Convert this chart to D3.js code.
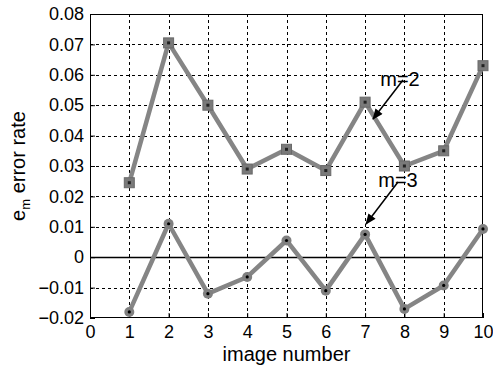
<!DOCTYPE html>
<html>
<head>
<meta charset="utf-8">
<script src="https://cdn.jsdelivr.net/npm/d3@7"></script>
<style>
  body { margin: 0; background: #fff; }
  svg { font-family: Arial, "Liberation Sans", sans-serif; }
</style>
</head>
<body>
<svg width="493" height="368"></svg>
<script>
// chart data
const images = [1, 2, 3, 4, 5, 6, 7, 8, 9, 10];
const m2 = [0.0245, 0.0705, 0.050, 0.029, 0.0355, 0.0285, 0.051, 0.030, 0.035, 0.063];
const m3 = [-0.018, 0.011, -0.012, -0.0065, 0.0055, -0.011, 0.0075, -0.017, -0.0093, 0.0093];
const xTicks = [0, 1, 2, 3, 4, 5, 6, 7, 8, 9, 10];
const yTicks = [-0.02, -0.01, 0, 0.01, 0.02, 0.03, 0.04, 0.05, 0.06, 0.07, 0.08];

const svg = d3.select("svg");
const pLeft = 90, pRight = 483, pTop = 14, pBottom = 318;
const font = "Arial, 'Liberation Sans', sans-serif";

const x = d3.scaleLinear().domain([0, 10]).range([pLeft, pRight]);
const y = d3.scaleLinear().domain([-0.02, 0.08]).range([pBottom, pTop]);

// grid
const grid = svg.append("g")
  .attr("stroke", "#000").attr("stroke-width", 1).attr("stroke-dasharray", "3,3");
grid.selectAll("line.gx").data(xTicks.slice(1, -1)).enter().append("line")
  .attr("x1", d => Math.round(x(d)) + 0.5).attr("x2", d => Math.round(x(d)) + 0.5)
  .attr("y1", pTop).attr("y2", pBottom);
grid.selectAll("line.gy").data(yTicks.slice(1, -1).filter(d => d !== 0)).enter().append("line")
  .attr("y1", d => Math.round(y(d)) + 0.5).attr("y2", d => Math.round(y(d)) + 0.5)
  .attr("x1", pLeft).attr("x2", pRight);

// zero line
svg.append("line")
  .attr("x1", pLeft).attr("x2", pRight)
  .attr("y1", Math.round(y(0)) + 0.5).attr("y2", Math.round(y(0)) + 0.5)
  .attr("stroke", "#000").attr("stroke-width", 1.5);

// axes
const xAxis = svg.append("g").attr("transform", `translate(0,${pBottom})`)
  .call(d3.axisBottom(x).tickValues(xTicks).tickSize(-5).tickPadding(7).tickFormat(d3.format("d")));
const yAxis = svg.append("g").attr("transform", `translate(${pLeft},0)`)
  .call(d3.axisLeft(y).tickValues(yTicks).tickSize(-5).tickPadding(6)
    .tickFormat(d => d === 0 ? "0" : d3.format(".2f")(d)));
[xAxis, yAxis].forEach(a => {
  a.selectAll("text").attr("font-size", 18).attr("fill", "#000").attr("font-family", font);
  a.selectAll("line").attr("stroke", "#000");
  a.select(".domain").remove();
});

// box
svg.append("rect")
  .attr("x", pLeft + 0.5).attr("y", pTop + 0.5)
  .attr("width", pRight - pLeft - 1).attr("height", pBottom - pTop - 1)
  .attr("fill", "none").attr("stroke", "#000").attr("stroke-width", 1);

// series
const line = d3.line().x((d, i) => x(images[i])).y(d => y(d));
[m2, m3].forEach(s => {
  svg.append("path").datum(s).attr("d", line)
    .attr("fill", "none").attr("stroke", "#858585").attr("stroke-width", 4.5)
    .attr("stroke-linejoin", "round");
});

// m=2 square markers
svg.selectAll("rect.sq").data(m2).enter().append("rect")
  .attr("x", (d, i) => x(images[i]) - 5).attr("y", d => y(d) - 5)
  .attr("width", 10).attr("height", 10)
  .attr("fill", "#7a7a7a").attr("stroke", "#6a6a6a");
svg.selectAll("rect.sqc").data(m2).enter().append("rect")
  .attr("x", (d, i) => x(images[i]) - 1.5).attr("y", d => y(d) - 1.5)
  .attr("width", 3).attr("height", 3).attr("fill", "#222");

// m=3 circle markers
svg.selectAll("circle.c").data(m3).enter().append("circle")
  .attr("cx", (d, i) => x(images[i])).attr("cy", d => y(d))
  .attr("r", 5).attr("fill", "#808080");
svg.selectAll("circle.cc").data(m3).enter().append("circle")
  .attr("cx", (d, i) => x(images[i])).attr("cy", d => y(d))
  .attr("r", 1.6).attr("fill", "#000");

// annotations
svg.append("defs").append("marker")
  .attr("id", "arr").attr("viewBox", "0 0 12 10").attr("refX", 11).attr("refY", 5)
  .attr("markerWidth", 12).attr("markerHeight", 9).attr("orient", "auto")
  .attr("markerUnits", "userSpaceOnUse")
  .append("path").attr("d", "M0,0 L12,5 L0,10 z").attr("fill", "#000");

const notes = [
  { label: "m=2", tx: 400, ty: 86, x1: 403, y1: 80, x2: 373, y2: 119 },
  { label: "m=3", tx: 398, ty: 187, x1: 398, y1: 182, x2: 366, y2: 224 }
];
notes.forEach(n => {
  svg.append("text").attr("x", n.tx).attr("y", n.ty).attr("text-anchor", "middle")
    .attr("font-size", 20).attr("font-family", font).text(n.label);
  svg.append("line").attr("x1", n.x1).attr("y1", n.y1).attr("x2", n.x2).attr("y2", n.y2)
    .attr("stroke", "#000").attr("stroke-width", 1.5).attr("marker-end", "url(#arr)");
});

// axis labels
svg.append("text").attr("x", x(5)).attr("y", 361).attr("text-anchor", "middle")
  .attr("font-size", 20).attr("font-family", font).text("image number");
const yl = svg.append("text").attr("transform", "translate(25,166) rotate(-90)")
  .attr("text-anchor", "middle").attr("font-size", 20).attr("font-family", font);
yl.append("tspan").text("e");
yl.append("tspan").attr("font-size", 13).attr("dy", 5).text("m");
yl.append("tspan").attr("dy", -5).text(" error rate");
</script>
</body>
</html>
